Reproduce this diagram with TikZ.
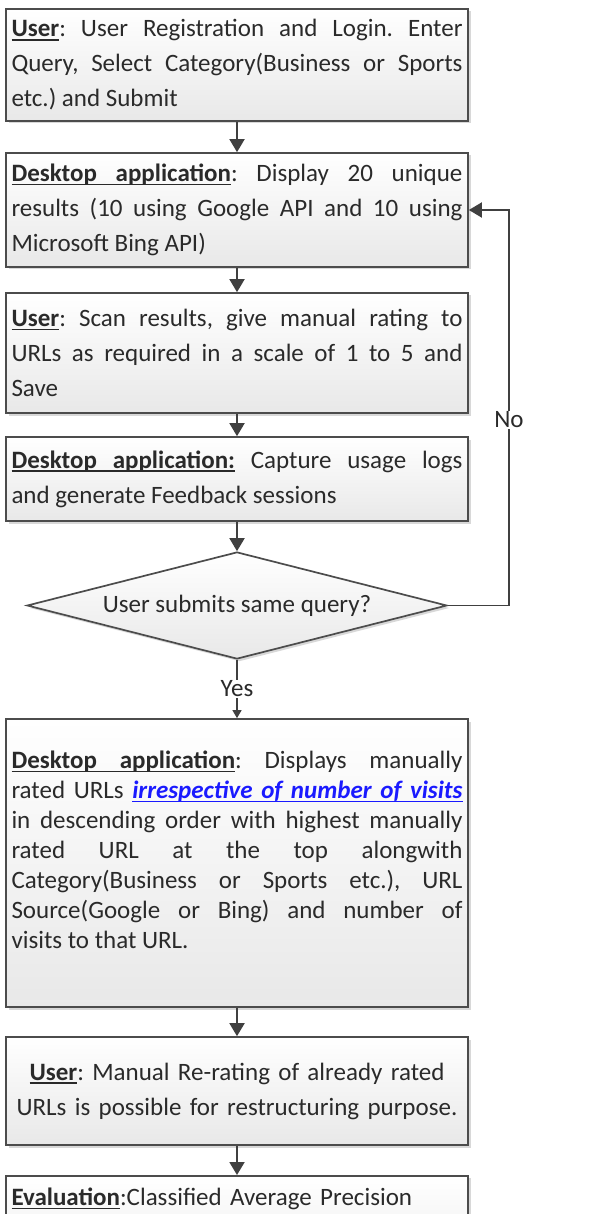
\documentclass[tikz,border=0pt]{standalone}
\usepackage{fontspec}
\setmainfont{Carlito}
\usetikzlibrary{shapes.geometric,shadows,arrows.meta}
\definecolor{edge}{HTML}{4C4C4C}
\definecolor{arr}{HTML}{404040}
\definecolor{txt}{HTML}{2A2A2A}
\definecolor{linkblue}{HTML}{1A1AFF}
\tolerance=10000
\hyphenpenalty=10000
\frenchspacing
\newsavebox\ulbox
\newcommand\ulw[1]{\sbox\ulbox{#1}\rlap{\vrule height -2.2pt depth 3.6pt width \wd\ulbox}\usebox\ulbox}
\newcommand\ulsp{\leaders\hrule height -2.2pt depth 3.6pt\hskip\fontdimen2\font plus\fontdimen3\font minus\fontdimen4\font\relax}
\tikzset{
  boxbase/.style={draw=edge, line width=1.7pt, top color=white, bottom color=black!9,
    drop shadow={shadow xshift=2.5pt, shadow yshift=-2.5pt, opacity=0.3, fill=black!50}},
  box/.style={boxbase, minimum width=462pt, text width=451pt, inner xsep=5.5pt, inner ysep=0pt,
    align=justify, font=\fontsize{25}{35}\selectfont, text=txt},
  flow/.style={draw=arr, line width=1.9pt, -{Triangle[width=15pt,length=13pt]}},
  flowsmall/.style={draw=arr, line width=1.4pt, -{Triangle[width=9pt,length=8pt]}},
  lbl/.style={fill=white, inner sep=1pt, font=\fontsize{25}{30}\selectfont, text=txt},
}
\begin{document}
\begin{tikzpicture}[x=1pt,y=-1pt]
\useasboundingbox (0,0) rectangle (599,1214);
\clip (0,0) rectangle (599,1214);
\fill[white] (0,0) rectangle (599,1214);

\node[box, minimum height=112pt] (b1) at (237,65) {\textbf{\ulw{User}}: User Registration and Login. Enter\linebreak Query, Select Category(Business or Sports\linebreak etc.) and Submit};

\node[box, minimum height=114pt] (b2) at (237,210) {\textbf{\ulw{Desktop}\ulsp\ulw{application}}: Display 20 unique\linebreak results (10 using Google API and 10 using\linebreak Microsoft Bing API)};

\node[box, minimum height=120pt] (b3) at (237,353) {\textbf{\ulw{User}}: Scan results, give manual rating to\linebreak URLs as required in a scale of 1 to 5 and\linebreak Save};

\node[box, minimum height=84pt] (b4) at (237,479) {\textbf{\ulw{Desktop}\ulsp\ulw{application:}} Capture usage logs\linebreak and generate Feedback sessions};

\node[boxbase, diamond, aspect=4, minimum width=420pt, minimum height=107pt, inner sep=0pt,
  font=\fontsize{25}{30}\selectfont, text=txt] (d) at (237,605.5) {User submits same query?};

\node[box, minimum height=288pt, font=\fontsize{25}{30}\selectfont] (b5) at (237,863) {\textbf{\ulw{Desktop}\ulsp\ulw{application}}: Displays manually\linebreak rated URLs {\color{linkblue}\bfseries\itshape\ulw{irrespective}\ulsp\ulw{of}\ulsp\ulw{number}\ulsp\ulw{of}\ulsp\ulw{visits}}\linebreak in descending order with highest manually\linebreak rated URL at the top alongwith\linebreak Category(Business or Sports etc.), URL\linebreak Source(Google or Bing) and number of\linebreak visits to that URL.\rule[-26pt]{0pt}{0pt}};

\node[box, minimum height=108pt, align=center] (b6) at (237,1091) {\textbf{\ulw{User}}: Manual Re-rating of already rated\\URLs is possible for restructuring purpose.};

\node[box, minimum height=120pt, align=left, anchor=north, text depth=90pt] (b7) at (237,1175) {\rule{0pt}{29pt}\textbf{\ulw{Evaluation}}:Classified Average Precision};

\draw[flow] (b1.south) -- (b2.north);
\draw[flow] (b2.south) -- (b3.north);
\draw[flow] (b3.south) -- (b4.north);
\draw[flow] (b4.south) -- (d.north);
\draw[flowsmall] (d.south) -- node[lbl] (yes) {Yes} (b5.north);
\draw[flow] (b5.south) -- (b6.north);
\draw[flow] (b6.south) -- (b7.north);

\coordinate (c1) at (509,605.5);
\coordinate (c2) at (c1 |- b2.east);
\draw[flow] (d.east) -- (c1) -- node[lbl, pos=0.47] (no) {No} (c2) -- (b2.east);
\end{tikzpicture}
\end{document}
